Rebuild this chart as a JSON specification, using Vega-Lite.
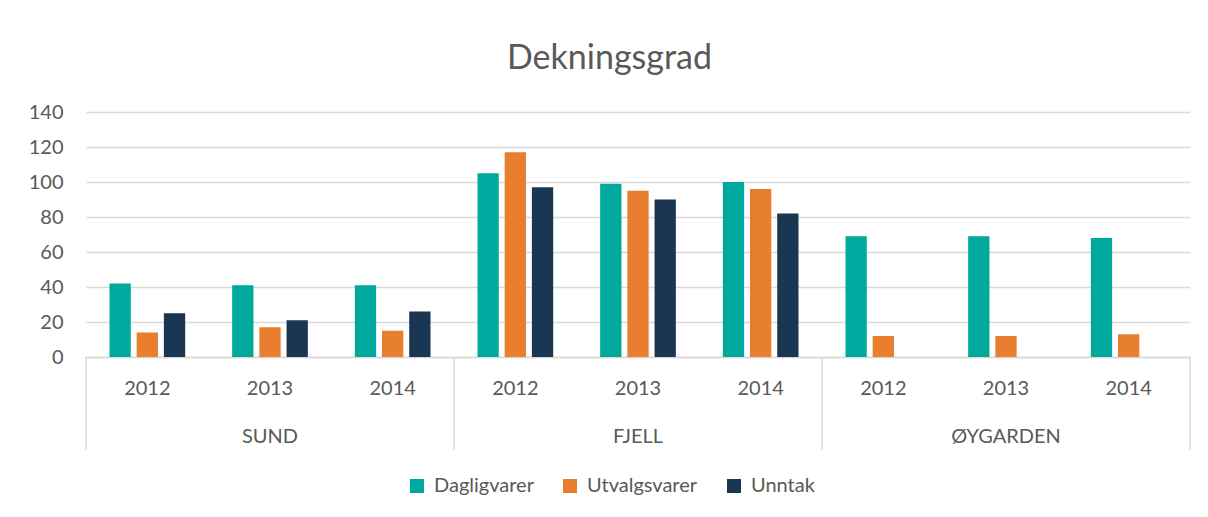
{
  "$schema": "https://vega.github.io/schema/vega-lite/v6.json",
  "width": 1104,
  "height": 245,
  "autosize": {"type": "none"},
  "padding": {"left": 86, "top": 112, "right": 18, "bottom": 160},
  "background": "white",
  "config": {
    "font": "Lato",
    "view": {"stroke": null},
    "axis": {"labelColor": "#595959", "labelFont": "Lato"}
  },
  "title": {
    "text": "Dekningsgrad",
    "fontSize": 34,
    "fontWeight": "normal",
    "color": "#595959",
    "anchor": "middle",
    "frame": "bounds",
    "offset": 26
  },
  "datasets": {
    "bars": [
      {"cat": "SUND 2012", "g": "SUND", "serie": "Dagligvarer", "v": 42},
      {"cat": "SUND 2012", "g": "SUND", "serie": "Utvalgsvarer", "v": 14},
      {"cat": "SUND 2012", "g": "SUND", "serie": "Unntak", "v": 25},
      {"cat": "SUND 2013", "g": "SUND", "serie": "Dagligvarer", "v": 41},
      {"cat": "SUND 2013", "g": "SUND", "serie": "Utvalgsvarer", "v": 17},
      {"cat": "SUND 2013", "g": "SUND", "serie": "Unntak", "v": 21},
      {"cat": "SUND 2014", "g": "SUND", "serie": "Dagligvarer", "v": 41},
      {"cat": "SUND 2014", "g": "SUND", "serie": "Utvalgsvarer", "v": 15},
      {"cat": "SUND 2014", "g": "SUND", "serie": "Unntak", "v": 26},
      {"cat": "FJELL 2012", "g": "FJELL", "serie": "Dagligvarer", "v": 105},
      {"cat": "FJELL 2012", "g": "FJELL", "serie": "Utvalgsvarer", "v": 117},
      {"cat": "FJELL 2012", "g": "FJELL", "serie": "Unntak", "v": 97},
      {"cat": "FJELL 2013", "g": "FJELL", "serie": "Dagligvarer", "v": 99},
      {"cat": "FJELL 2013", "g": "FJELL", "serie": "Utvalgsvarer", "v": 95},
      {"cat": "FJELL 2013", "g": "FJELL", "serie": "Unntak", "v": 90},
      {"cat": "FJELL 2014", "g": "FJELL", "serie": "Dagligvarer", "v": 100},
      {"cat": "FJELL 2014", "g": "FJELL", "serie": "Utvalgsvarer", "v": 96},
      {"cat": "FJELL 2014", "g": "FJELL", "serie": "Unntak", "v": 82},
      {"cat": "ØYGARDEN 2012", "g": "ØYGARDEN", "serie": "Dagligvarer", "v": 69},
      {"cat": "ØYGARDEN 2012", "g": "ØYGARDEN", "serie": "Utvalgsvarer", "v": 12},
      {"cat": "ØYGARDEN 2013", "g": "ØYGARDEN", "serie": "Dagligvarer", "v": 69},
      {"cat": "ØYGARDEN 2013", "g": "ØYGARDEN", "serie": "Utvalgsvarer", "v": 12},
      {"cat": "ØYGARDEN 2014", "g": "ØYGARDEN", "serie": "Dagligvarer", "v": 68},
      {"cat": "ØYGARDEN 2014", "g": "ØYGARDEN", "serie": "Utvalgsvarer", "v": 13}
    ],
    "groups": [
      {"g": "SUND"},
      {"g": "FJELL"},
      {"g": "ØYGARDEN"}
    ]
  },
  "layer": [
    {
      "data": {"name": "bars"},
      "mark": {"type": "bar"},
      "encoding": {
        "x": {
          "field": "cat",
          "type": "nominal",
          "sort": null,
          "scale": {"paddingInner": 0.383, "paddingOuter": 0.1915},
          "axis": {
            "title": null,
            "labelExpr": "split(datum.label, ' ')[1]",
            "labelAngle": 0,
            "labelFontSize": 20,
            "labelPadding": 21,
            "ticks": false,
            "tickSize": 0,
            "domainColor": "#D9D9D9",
            "domainWidth": 1.5
          }
        },
        "xOffset": {
          "field": "serie",
          "type": "nominal",
          "sort": ["Dagligvarer", "Utvalgsvarer", "Unntak"],
          "scale": {"paddingInner": 0.217, "paddingOuter": 0}
        },
        "y": {
          "field": "v",
          "type": "quantitative",
          "scale": {"domain": [0, 140], "nice": false},
          "axis": {
            "title": null,
            "values": [0, 20, 40, 60, 80, 100, 120, 140],
            "labelOverlap": false,
            "domain": false,
            "ticks": false,
            "labelFontSize": 20,
            "labelPadding": 23,
            "gridColor": "#D9D9D9",
            "gridWidth": 1.5
          }
        },
        "color": {
          "field": "serie",
          "type": "nominal",
          "scale": {
            "domain": ["Dagligvarer", "Utvalgsvarer", "Unntak"],
            "range": ["#00A99D", "#E77F2E", "#1A3652"]
          },
          "legend": {
            "title": null,
            "orient": "none",
            "legendX": 321,
            "legendY": 364,
            "direction": "horizontal",
            "symbolType": "square",
            "symbolSize": 196,
            "symbolStrokeWidth": 0,
            "labelFontSize": 20,
            "labelColor": "#595959",
            "columnPadding": 26,
            "labelOffset": 7
          }
        }
      }
    },
    {
      "data": {"name": "groups"},
      "layer": [
        {
          "mark": {"type": "rule", "color": "#D9D9D9", "strokeWidth": 1.5},
          "encoding": {
            "x": {"field": "g", "type": "nominal", "sort": null, "bandPosition": 0, "scale": {"paddingInner": 0, "paddingOuter": 0}, "axis": null},
            "y": {"datum": 0, "type": "quantitative", "scale": {"domain": [0, 140], "nice": false}, "axis": null},
            "y2": {"datum": -53}
          }
        },
        {
          "transform": [{"filter": "datum.g === 'ØYGARDEN'"}],
          "mark": {"type": "rule", "color": "#D9D9D9", "strokeWidth": 1.5},
          "encoding": {
            "x": {"field": "g", "type": "nominal", "sort": null, "bandPosition": 1, "scale": {"paddingInner": 0, "paddingOuter": 0}, "axis": null},
            "y": {"datum": 0, "type": "quantitative", "scale": {"domain": [0, 140], "nice": false}, "axis": null},
            "y2": {"datum": -53}
          }
        },
        {
          "mark": {"type": "text", "fontSize": 20, "color": "#595959", "baseline": "alphabetic", "align": "center"},
          "encoding": {
            "x": {"field": "g", "type": "nominal", "sort": null, "bandPosition": 0.5, "scale": {"paddingInner": 0, "paddingOuter": 0}, "axis": null},
            "y": {"datum": -49.1, "type": "quantitative", "scale": {"domain": [0, 140], "nice": false}, "axis": null},
            "text": {"field": "g"}
          }
        }
      ]
    }
  ],
  "resolve": {
    "scale": {"x": "independent", "y": "independent"},
    "axis": {"x": "independent", "y": "independent"}
  }
}
